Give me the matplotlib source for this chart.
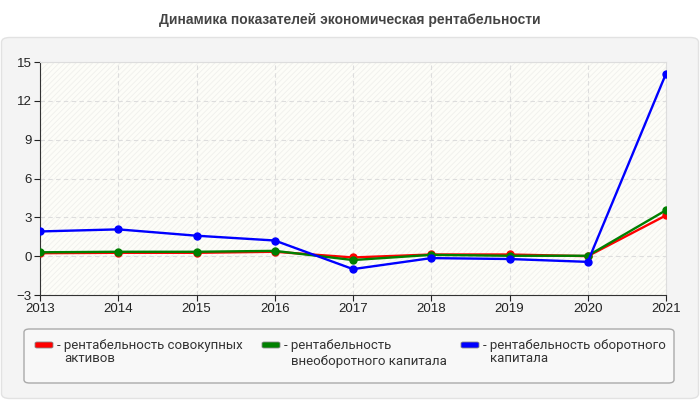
import matplotlib
matplotlib.use("Agg")
import matplotlib.pyplot as plt
from matplotlib.patches import FancyBboxPatch

years = [2013, 2014, 2015, 2016, 2017, 2018, 2019, 2020, 2021]
assets_total = [0.23, 0.26, 0.26, 0.34, -0.1, 0.13, 0.13, 0.0, 3.15]
noncurrent = [0.3, 0.34, 0.34, 0.41, -0.3, 0.1, 0.03, 0.03, 3.55]
working = [1.91, 2.07, 1.58, 1.21, -1.0, -0.15, -0.22, -0.44, 14.1]
series_names = ["рентабельность совокупных\nактивов",
                "рентабельность\nвнеоборотного капитала",
                "рентабельность оборотного\nкапитала"]
series_colors = ["#ff0000", "#008000", "#0000ff"]
yticks = [-3, 0, 3, 6, 9, 12, 15]

plt.rcParams['font.family'] = ['Liberation Sans', 'DejaVu Sans']
plt.rcParams['hatch.linewidth'] = 0.6

fig = plt.figure(figsize=(7, 4), dpi=100)
fig.patch.set_facecolor("white")

# outer rounded panel
panel = FancyBboxPatch((1.5/700, 1.5/400), 697/700, 361/400,
                       boxstyle="round,pad=0,rounding_size=0.012",
                       transform=fig.transFigure, facecolor="#f4f4f4",
                       edgecolor="#e2e2e2", linewidth=1, zorder=-5)
fig.patches.append(panel)

fig.text(0.5, 1 - 20/400, "Динамика показателей экономическая рентабельности",
         ha="center", va="center", fontsize=10, fontweight="bold", color="#444444")

ax = fig.add_axes([40/700, 1 - 295/400, 626/700, 233/400], zorder=2)
ax.set_facecolor("#fdfdf8")
ax.fill_between([2013, 2021], -3, 15, facecolor="none", edgecolor="#f0f0ec",
                hatch="//////", linewidth=0, zorder=0)

data = [assets_total, noncurrent, working]
for vals, c in zip(data, series_colors):
    ax.plot(years, vals, color=c, linewidth=1.7, marker="o", markersize=5, zorder=3)

ax.set_xlim(2013, 2021)
ax.set_ylim(-3, 15)
ax.set_xticks(years)
ax.set_yticks(yticks)
ax.grid(True, color="#dddddd", linestyle=(0, (4, 3)), linewidth=0.8)
ax.set_axisbelow(True)
for s in ["top", "right"]:
    ax.spines[s].set_color("#dddddd")
for s in ["left", "bottom"]:
    ax.spines[s].set_color("#333333")
ax.tick_params(labelsize=9.5, colors="#222222", length=4, pad=2)

# legend box
lbox = FancyBboxPatch((24/700, 1 - 383/400), 650/700, 54/400,
                      boxstyle="round,pad=0,rounding_size=0.008",
                      transform=fig.transFigure, facecolor="#f8f8f8",
                      edgecolor="#aaaaaa", linewidth=1, zorder=-1)
fig.patches.append(lbox)
xs = [35, 262, 461]
line2_y = [358, 362, 358]
for x, name, c, y2 in zip(xs, series_names, series_colors, line2_y):
    fig.patches.append(FancyBboxPatch((x/700, 1 - 348/400), 18/700, 6/400,
                       boxstyle="round,pad=0,rounding_size=0.003",
                       transform=fig.transFigure, facecolor=c,
                       edgecolor="#888888", linewidth=0.6, zorder=1))
    first, second = name.split("\n")
    fig.text((x + 22)/700, 1 - 346/400, "- " + first,
             ha="left", va="center", fontsize=9.5, color="#333333",
             family=["Roboto", "DejaVu Sans"])
    fig.text((x + 29)/700, 1 - y2/400, second,
             ha="left", va="center", fontsize=9.5, color="#333333",
             family=["Roboto", "DejaVu Sans"])

fig.savefig("out.png", dpi=100)
